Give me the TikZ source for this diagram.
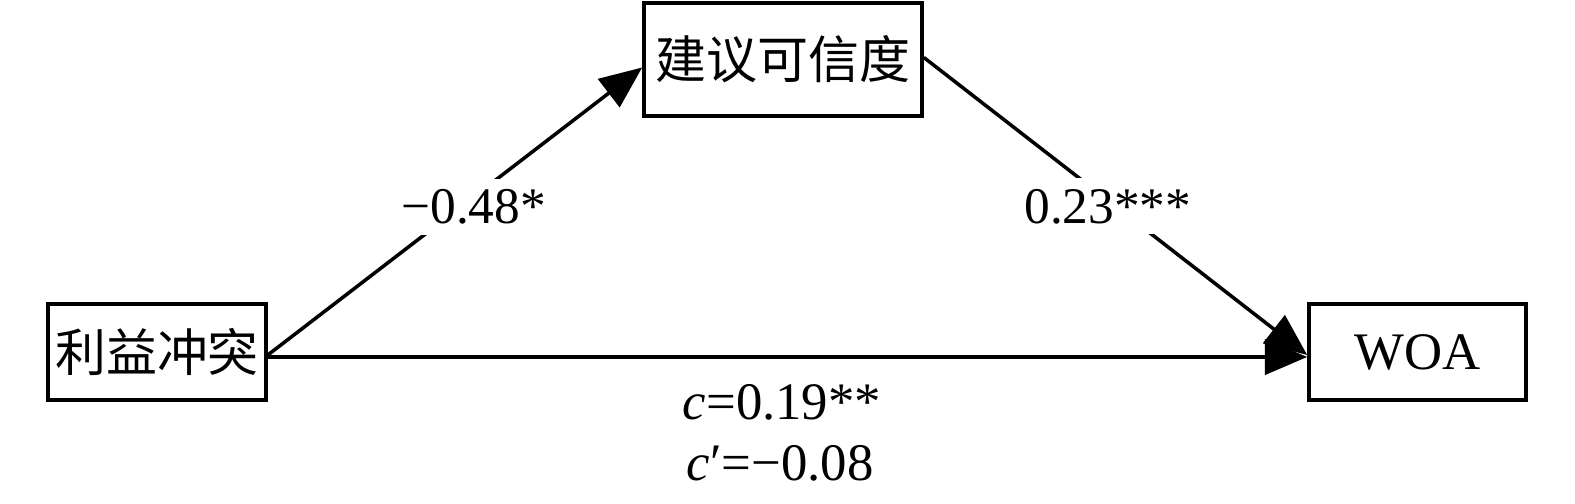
\documentclass[tikz,border=0pt]{standalone}
\usepackage{fontspec}
\setmainfont{Liberation Serif}
\newfontfamily\cjk{Noto Sans CJK SC}
\usetikzlibrary{arrows.meta}
\begin{document}
\begin{tikzpicture}[x=0.01cm,y=-0.01cm,
  box/.style={draw,line width=1pt,inner sep=0pt,font=\fontsize{14.5}{16}\selectfont},
  arr/.style={line width=1pt,-{Triangle[length=12pt,width=10pt]}},
  lab/.style={fill=white,inner sep=3pt,font=\fontsize{14.6}{16}\selectfont},
  txt/.style={inner sep=0pt,font=\fontsize{15}{16}\selectfont}]
\useasboundingbox (0,0) rectangle (1575,504);
\node[box,minimum width=2.18cm,minimum height=0.96cm] (L) at (157,352) {\cjk 利益冲突};
\node[box,minimum width=2.78cm,minimum height=1.13cm] (T) at (783,59.5) {\cjk 建议可信度};
\node[box,minimum width=2.17cm,minimum height=0.96cm,font=\fontsize{15}{16}\selectfont] (W) at (1417.5,352) {WOA};
\draw[arr] ([yshift=-0.03cm]L.east) -- ([yshift=-0.08cm]T.west)
  node[lab,pos=0.55,yshift=-0.1cm] {−0.48*};
\draw[arr] ([yshift=0.02cm]T.east) -- ([yshift=-0.03cm]W.west)
  node[lab,pos=0.48,yshift=-0.06cm] {0.23***};
\draw[arr] ([yshift=-0.05cm]L.east) -- ([yshift=-0.05cm]W.west);
\node[txt] (c1) at (782,402) {\textit{c}=0.19**};
\node[txt] (c2) at (780,463) {\textit{c}′=−0.08};
\end{tikzpicture}
\end{document}
